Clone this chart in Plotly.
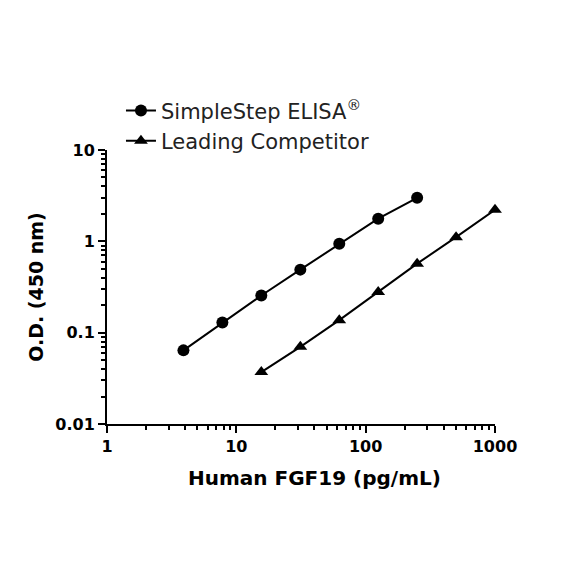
import plotly.graph_objects as go

# concentrations (pg/mL) and O.D. readings
simplestep_conc = [3.9, 7.8, 15.6, 31.25, 62.5, 125, 250]
simplestep_od = [0.064, 0.129, 0.255, 0.49, 0.94, 1.77, 3.0]

competitor_conc = [15.6, 31.25, 62.5, 125, 250, 500, 1000]
competitor_od = [0.037, 0.070, 0.137, 0.279, 0.57, 1.11, 2.22]

x_tickvals = [1, 10, 100, 1000]
x_ticktext = ["1", "10", "100", "1000"]
y_tickvals = [0.01, 0.1, 1, 10]
y_ticktext = ["0.01", "0.1", "1", "10"]

FONT = "DejaVu Sans"


def minor_ticks(decades):
    # 2..9 within each decade
    return [d * k for d in decades for k in range(2, 10)]


fig = go.Figure([
    go.Scatter(x=simplestep_conc, y=simplestep_od, mode="lines+markers",
               name="SimpleStep ELISA<sup>®</sup>", cliponaxis=False,
               line=dict(color="black", width=2),
               marker=dict(symbol="circle", size=12, color="black")),
    go.Scatter(x=competitor_conc, y=competitor_od, mode="lines+markers",
               name="Leading Competitor", cliponaxis=False,
               line=dict(color="black", width=2),
               marker=dict(symbol="triangle-up", size=12, color="black")),
])

axis_common = dict(
    showline=True, linecolor="black", linewidth=2,
    ticks="outside", ticklen=7, tickwidth=2, tickcolor="black",
    showgrid=False, zeroline=False,
    tickfont=dict(family=FONT, size=16, color="black", weight="bold"),
)

fig.update_xaxes(type="log", range=[0, 3], tickvals=x_tickvals, ticktext=x_ticktext,
                 minor=dict(tickvals=minor_ticks([1, 10, 100]), ticks="outside",
                            ticklen=4, tickwidth=1.5, tickcolor="black", showgrid=False),
                 **axis_common)
fig.update_yaxes(type="log", range=[-2, 1], tickvals=y_tickvals, ticktext=y_ticktext,
                 minor=dict(tickvals=minor_ticks([0.01, 0.1, 1]), ticks="outside",
                            ticklen=4, tickwidth=1.5, tickcolor="black", showgrid=False),
                 title=dict(text="O.D. (450 nm)", standoff=7,
                            font=dict(family=FONT, size=19, color="black", weight="bold")),
                 **axis_common)

# x title sits slightly right of the axis centre in the original
fig.add_annotation(text="<b>Human FGF19 (pg/mL)</b>", xref="paper", yref="paper",
                   x=0.534, y=-0.197, xanchor="center", yanchor="middle",
                   showarrow=False, font=dict(family=FONT, size=20, color="black"))

fig.update_layout(
    width=584, height=584,
    margin=dict(l=99, r=97, t=142, b=168, autoexpand=False),
    plot_bgcolor="white", paper_bgcolor="white",
    showlegend=True,
    legend=dict(x=0.036, y=1.218, xanchor="left", yanchor="top",
                font=dict(family=FONT, size=21, color="#222222"),
                bgcolor="rgba(0,0,0,0)", itemwidth=30, tracegroupgap=0),
)

fig.write_html("out.html")
